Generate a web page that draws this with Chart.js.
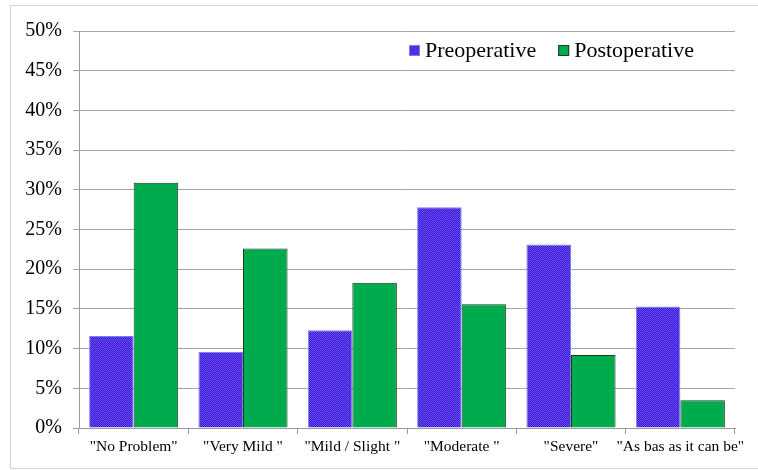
<!DOCTYPE html>
<html>
<head>
<meta charset="utf-8">
<title>Preoperative vs Postoperative</title>
<script src="https://cdn.jsdelivr.net/npm/chart.js@4"></script>
<style>
  body { margin: 0; background: #fff; }
  #wrap { position: relative; width: 758px; height: 470px; overflow: hidden; }
  #frame {
    position: absolute; left: 10px; top: 5px; width: 800px; height: 462px;
    border: 1px solid #d4d4d4; pointer-events: none;
  }
</style>
</head>
<body>
<div id="wrap">
  <canvas id="chart" width="758" height="470"></canvas>
  <div id="frame"></div>
</div>
<script>
'use strict';

// categories on the x axis
let categories = ['"No Problem"', '"Very Mild "', '"Mild / Slight "', '"Moderate "', '"Severe"', '"As bas as it can be"'];

// percentage of patients per answer
let preoperative = [11.6, 9.6, 12.3, 27.8, 23.1, 15.3];
let postoperative = [30.9, 22.6, 18.3, 15.6, 9.2, 3.5];

// y axis ticks (percent)
let yTicks = [0, 5, 10, 15, 20, 25, 30, 35, 40, 45, 50];

document.addEventListener('DOMContentLoaded', function() {

  let canvasElem = document.getElementById('chart');
  let serif = '"Liberation Serif", "Times New Roman", serif';

  // dotted blue fill like the old spreadsheet pattern
  function makeDots() {
    let p = document.createElement('canvas');
    p.width = 2;
    p.height = 2;
    let c = p.getContext('2d');
    c.fillStyle = '#3a16d6';
    c.fillRect(0, 0, 2, 2);
    c.fillStyle = '#6b4ff0';
    c.fillRect(0, 0, 1, 1);
    c.fillRect(1, 1, 1, 1);
    return canvasElem.getContext('2d').createPattern(p, 'repeat');
  }

  // legend drawn inside the plot, top right
  let insideLegend = {
    id: 'insideLegend',
    afterDraw: function(chart) {
      let ctx = chart.ctx;
      let area = chart.chartArea;
      ctx.save();
      ctx.font = '22px ' + serif;
      ctx.textBaseline = 'middle';
      let x = area.left + 330;
      let y = area.top + 20;
      chart.data.datasets.forEach(function(ds) {
        ctx.fillStyle = ds.legendColor;
        ctx.fillRect(x, y - 6, 11, 11);
        ctx.lineWidth = 1;
        ctx.strokeStyle = ds.borderColor;
        ctx.strokeRect(x + 0.5, y - 5.5, 10, 10);
        ctx.fillStyle = '#000';
        ctx.fillText(ds.label, x + 16, y);
        x += 16 + ctx.measureText(ds.label).width + 22;
      });
      ctx.restore();
    }
  };

  let chartData = {
    labels: categories,
    datasets: [{
      label: 'Preoperative',
      data: preoperative,
      backgroundColor: makeDots(),
      legendColor: '#4f30e4',
      borderColor: '#6f86e0',
      borderWidth: 1
    },
    {
      label: 'Postoperative',
      data: postoperative,
      backgroundColor: '#00ab4e',
      legendColor: '#00ab4e',
      borderColor: '#1f3a22',
      borderWidth: 1
    }]
  };

  let chartConfig = {
    type: 'bar',
    data: chartData,
    options: {
      responsive: false,
      animation: false,
      events: [],
      layout: {
        padding: { top: 31, right: 23, left: 0, bottom: 0 }
      },
      datasets: {
        bar: {
          categoryPercentage: 0.815,
          barPercentage: 1.0
        }
      },
      plugins: {
        legend: { display: false },
        tooltip: { enabled: false }
      },
      scales: {
        x: {
          afterFit: function(scale) { scale.height = 42; },
          grid: {
            display: true,
            drawOnChartArea: false,
            offset: true,
            tickLength: 6,
            color: '#9a9a9a'
          },
          border: { color: '#9a9a9a' },
          ticks: {
            autoSkip: false,
            maxRotation: 0,
            padding: 4,
            color: '#000',
            font: { family: serif, size: 15.5 }
          }
        },
        y: {
          min: 0,
          max: 50,
          afterFit: function(scale) { scale.width = 79; },
          afterBuildTicks: function(scale) {
            scale.ticks = yTicks.map(v => ({ value: v }));
          },
          grid: {
            color: '#a4a4a4',
            tickLength: 6
          },
          border: { color: '#9a9a9a' },
          ticks: {
            padding: 11,
            color: '#000',
            font: { family: serif, size: 20 },
            callback: function(value) { return value + '%'; }
          }
        }
      }
    },
    plugins: [insideLegend]
  };

  let myChart = new Chart(canvasElem, chartConfig);
});
</script>
</body>
</html>
